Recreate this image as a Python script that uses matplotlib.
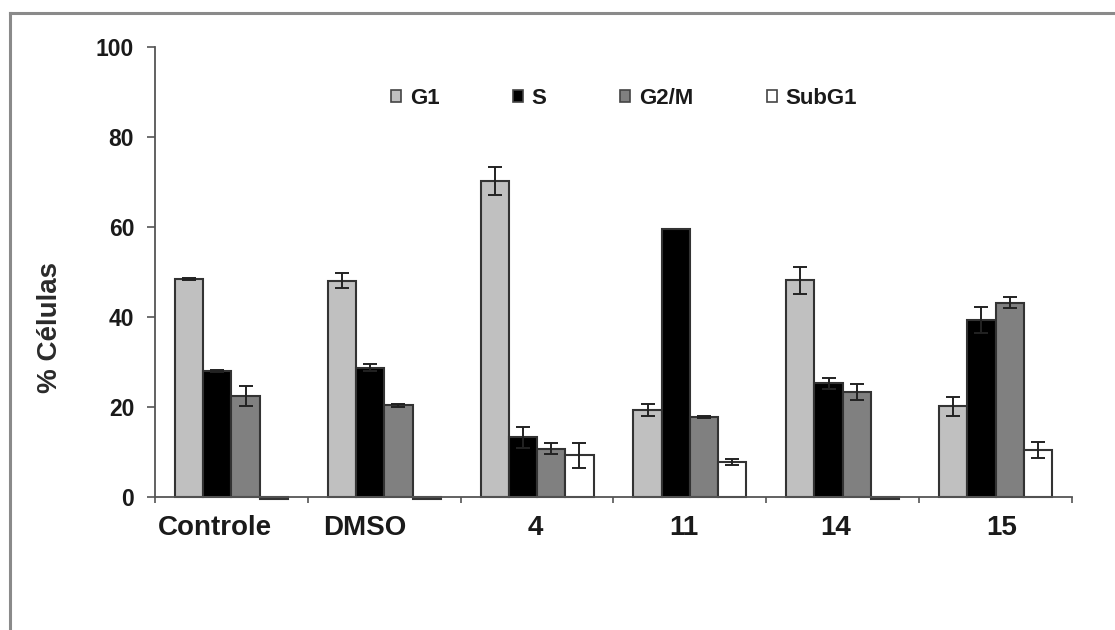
import matplotlib
matplotlib.use("Agg")
import matplotlib.pyplot as plt
from matplotlib.patches import Patch
from matplotlib.lines import Line2D
import numpy as np

plt.rcParams['font.family'] = ['Liberation Sans', 'DejaVu Sans']
plt.rcParams['font.weight'] = 'bold'

# Cell-cycle distribution (%) per treatment
categories = ["Controle", "DMSO", "4", "11", "14", "15"]
phases = ["G1", "S", "G2/M", "SubG1"]

g1 = [48.4, 48.1, 70.3, 19.3, 48.2, 20.2]
g1_err = [0.2, 1.7, 3.1, 1.4, 3.0, 2.1]
s_phase = [28.0, 28.7, 13.3, 59.6, 25.3, 39.3]
s_err = [0.2, 0.8, 2.3, 0.0, 1.2, 2.9]
g2m = [22.5, 20.4, 10.7, 17.8, 23.3, 43.2]
g2m_err = [2.2, 0.3, 1.2, 0.3, 1.8, 1.3]
subg1 = [-0.5, -0.4, 9.3, 7.8, -0.4, 10.4]
subg1_err = [0.0, 0.0, 2.8, 0.7, 0.0, 1.8]

values = [g1, s_phase, g2m, subg1]
errors = [g1_err, s_err, g2m_err, subg1_err]
colors = ["#c0c0c0", "#000000", "#808080", "#ffffff"]

W, H, DPI = 1115, 630, 100
fig = plt.figure(figsize=(W / DPI, H / DPI), dpi=DPI)
ax = fig.add_axes([155 / W, 1 - 497 / H, (1072 - 155) / W, (497 - 47) / H])

x = np.arange(len(categories))
bw = 0.185
offsets = (np.arange(len(phases)) - 1.5) * bw
edge = "#333333"
for vals, errs, col, off, name in zip(values, errors, colors, offsets, phases):
    bars = ax.bar(x + off, vals, width=bw, color=col, edgecolor=edge,
                  linewidth=1.5, label=name, zorder=2)
    for b in bars:
        b.set_clip_on(False)
    yerr = np.array(errs)
    mask = yerr > 0
    ax.errorbar((x + off)[mask], np.array(vals)[mask], yerr=yerr[mask],
                fmt="none", ecolor="#222222", elinewidth=1.4, capsize=5,
                capthick=1.4, zorder=3)

ax.set_xlim(-0.5, len(categories) - 0.5)
ax.set_ylim(0, 100)
ax.set_yticks(np.arange(0, 101, 20))

# category labels sit slightly off-centre under each group
label_shift = np.array([-0.105, -0.125, -0.013, -0.04, -0.046, 0.04])
ax.set_xticks(x + label_shift)
ax.set_xticklabels(categories)
ax.set_xticks(np.arange(-0.5, len(categories), 1.0), minor=True)

for sp in ["top", "right"]:
    ax.spines[sp].set_visible(False)
for sp in ["left", "bottom"]:
    ax.spines[sp].set_color("#555555")
    ax.spines[sp].set_linewidth(1.3)

ax.tick_params(axis="y", direction="out", length=6, width=1.2,
               color="#555555", labelsize=16.5, labelcolor="#1a1a1a", pad=9)
ax.tick_params(axis="x", which="major", length=0, labelsize=20,
               labelcolor="#1a1a1a", pad=13)
ax.tick_params(axis="x", which="minor", direction="out", length=4,
               width=1.2, color="#555555")

ax.set_ylabel("% Células", fontsize=20, fontweight="bold", color="#2a2a2a")
ax.yaxis.set_label_coords(-0.100, 0.376)

handles = [Patch(facecolor=c, edgecolor="#444444", linewidth=1.2) for c in colors]
leg = ax.legend(handles, phases, ncol=4, loc="center",
                bbox_to_anchor=((624 - 155) / (1072 - 155), (497 - 98) / 450),
                frameon=False, fontsize=16, handlelength=0.45, handleheight=0.45,
                handletextpad=0.4, columnspacing=3.3)
for t in leg.get_texts():
    t.set_fontweight("bold")
    t.set_color("#1a1a1a")

# Outer frame lines around the chart area
fig.add_artist(Line2D([10 / W, 10 / W], [0, 1 - 13 / H], color="#8a8a8a",
                      linewidth=2.2, transform=fig.transFigure))
fig.add_artist(Line2D([10 / W, 1], [1 - 13 / H, 1 - 13 / H], color="#8a8a8a",
                      linewidth=2.2, transform=fig.transFigure))

fig.savefig("out.png", dpi=DPI, facecolor="white")
